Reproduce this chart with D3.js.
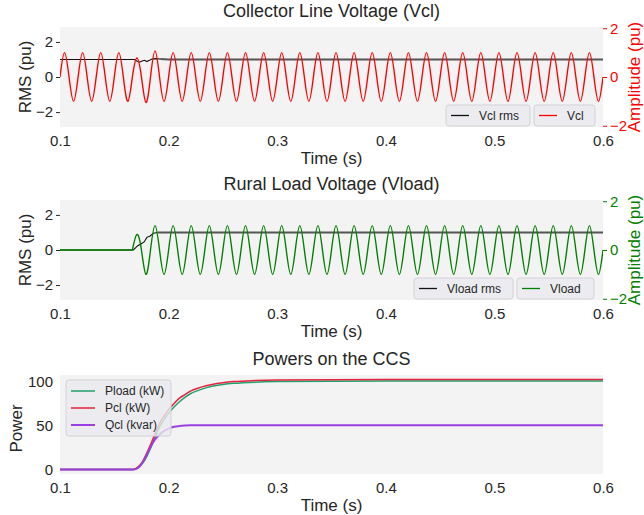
<!DOCTYPE html>
<html>
<head>
<meta charset="utf-8">
<script src="https://cdn.jsdelivr.net/npm/d3@7"></script>
<style>
  html, body { margin: 0; padding: 0; background: #fff; }
  svg { display: block; font-family: "Liberation Sans", Arial, Helvetica, sans-serif; }
</style>
</head>
<body>
<svg id="chart" width="644" height="515"></svg>
<script>
// ---------- data ----------
const timeTicks = [0.1, 0.2, 0.3, 0.4, 0.5, 0.6];
const voltTicks = [-2, 0, 2];
const powerTicks = [0, 50, 100];

// Instantaneous voltages, sampled every quarter period of the 60 Hz wave from t = 0.1 s
const waveStart = 0.1;
const waveStep = 1 / 240;

const vclWave = [
  0, 1, 0, -1, 0, 1, 0, -1,
  0, 1, 0, -1, 0, 1, 0, -1,
  0, 0.78, 0, -1.05, 0, 1.07, 0, -1,
  0, 1, 0, -1, 0, 1, 0, -1,
  0, 1, 0, -1, 0, 1, 0, -1,
  0, 1, 0, -1, 0, 1, 0, -1,
  0, 1, 0, -1, 0, 1, 0, -1,
  0, 1, 0, -1, 0, 1, 0, -1,
  0, 1, 0, -1, 0, 1, 0, -1,
  0, 1, 0, -1, 0, 1, 0, -1,
  0, 1, 0, -1, 0, 1, 0, -1,
  0, 1, 0, -1, 0, 1, 0, -1,
  0, 1, 0, -1, 0, 1, 0, -1,
  0, 1, 0, -1, 0, 1, 0, -1,
  0, 1, 0, -1, 0, 1, 0, -1,
  0
];

const vloadWave = [
  0, 0, 0, 0, 0, 0, 0, 0,
  0, 0, 0, 0, 0, 0, 0, 0,
  0, 0.64, 0, -1, 0, 1, 0, -1,
  0, 1, 0, -1, 0, 1, 0, -1,
  0, 1, 0, -1, 0, 1, 0, -1,
  0, 1, 0, -1, 0, 1, 0, -1,
  0, 1, 0, -1, 0, 1, 0, -1,
  0, 1, 0, -1, 0, 1, 0, -1,
  0, 1, 0, -1, 0, 1, 0, -1,
  0, 1, 0, -1, 0, 1, 0, -1,
  0, 1, 0, -1, 0, 1, 0, -1,
  0, 1, 0, -1, 0, 1, 0, -1,
  0, 1, 0, -1, 0, 1, 0, -1,
  0, 1, 0, -1, 0, 1, 0, -1,
  0, 1, 0, -1, 0, 1, 0, -1,
  0
];

// RMS voltages (pu)
const vclRmsTime  = [0.1, 0.1685, 0.1713, 0.1732, 0.1756, 0.1778, 0.18, 0.1824, 0.1849, 0.1876, 0.1923, 0.2, 0.6];
const vclRmsValue = [1.0, 1.0,    0.88,   0.84,   0.91,   0.95,   0.88, 0.95,   1.03,   1.05,   1.03,   1.0, 1.0];

const vloadRmsTime  = [0.1, 0.1676, 0.1713, 0.1744, 0.1775, 0.18, 0.183, 0.186, 0.1898, 0.6];
const vloadRmsValue = [0,   0,      0.23,   0.34,   0.46,   0.72, 0.80,  0.95,  1.0,    1.0];

// Powers on the CCS
const powerTime = [0.1, 0.1675, 0.172, 0.176, 0.18, 0.184, 0.188, 0.192, 0.196, 0.2, 0.205, 0.21, 0.215, 0.22, 0.23, 0.24, 0.25, 0.26, 0.28, 0.3, 0.35, 0.4, 0.5, 0.6];
const ploadKW   = [0,   0,      2,     7,     15,   26,    38,    49,    57,    64,  71,    77,   82,    86,   91,   94.5, 96.5, 97.8, 99.2, 99.8, 100.3, 100.4, 100.5, 100.5];
const pclKW     = [0,   0,      3,     9,     19,   30,    42,    53,    61,    68,  75,    81,   85,    89,   93.5, 96.5, 98.5, 99.8, 101,  101.6, 102, 102.1, 102.2, 102.2];
const qclKvar   = [0,   0,      2,     8,     17,   27,    35,    40,    44,    46.5, 48.5, 49.5, 50,   50.2, 50.2, 50.2, 50.2, 50.2, 50.2, 50.2, 50.2, 50.2, 50.2, 50.2];

// ---------- layout ----------
const svg = d3.select("#chart");
const FONT_TICK = 15, FONT_LABEL = 17, FONT_TITLE = 18, FONT_LEGEND = 12;
const INK = "#262626";
const plotLeft = 60, plotRight = 603;

const x = d3.scaleLinear().domain([0.1, 0.6]).range([plotLeft, plotRight]);
const intFormat = d3.format("d");

const defs = svg.append("defs");

function plotFrame(id, top, bottom, title) {
  const g = svg.append("g");
  g.append("rect")
    .attr("x", plotLeft).attr("y", top)
    .attr("width", plotRight - plotLeft).attr("height", bottom - top)
    .attr("fill", "#f3f3f3");
  defs.append("clipPath").attr("id", id)
    .append("rect")
    .attr("x", plotLeft).attr("y", top - 1)
    .attr("width", plotRight - plotLeft).attr("height", bottom - top + 2);
  g.append("text")
    .attr("x", (plotLeft + plotRight) / 2).attr("y", top - 10)
    .attr("text-anchor", "middle")
    .attr("font-size", FONT_TITLE).attr("fill", INK)
    .text(title);
  // time axis
  const xa = g.append("g")
    .attr("transform", `translate(0,${bottom})`)
    .call(d3.axisBottom(x).tickValues(timeTicks).tickFormat(d3.format(".1f")).tickSize(0).tickPadding(8));
  xa.select(".domain").remove();
  xa.selectAll("text").attr("font-size", FONT_TICK).attr("fill", INK).attr("font-family", null);
  g.append("text")
    .attr("x", (plotLeft + plotRight) / 2).attr("y", bottom + 37)
    .attr("text-anchor", "middle")
    .attr("font-size", FONT_LABEL).attr("fill", INK)
    .text("Time (s)");
  return g;
}

function yLabel(g, xPos, yCenter, text, color) {
  g.append("text")
    .attr("transform", `translate(${xPos},${yCenter}) rotate(-90)`)
    .attr("text-anchor", "middle")
    .attr("dominant-baseline", "central")
    .attr("font-size", FONT_LABEL).attr("fill", color)
    .text(text);
}

function legendBox(g, x0, y0, w, h, items, rowH, lineLen, textGap) {
  const lg = g.append("g");
  lg.append("rect")
    .attr("x", x0).attr("y", y0).attr("width", w).attr("height", h)
    .attr("rx", 3).attr("ry", 3)
    .attr("fill", "#eaeaef").attr("fill-opacity", 0.8)
    .attr("stroke", "#d2d2d8").attr("stroke-width", 1);
  items.forEach((it, i) => {
    const cy = y0 + h / 2 + (i - (items.length - 1) / 2) * rowH;
    lg.append("line")
      .attr("x1", x0 + 5).attr("x2", x0 + 5 + lineLen)
      .attr("y1", cy).attr("y2", cy)
      .attr("stroke", it.color).attr("stroke-width", it.width || 1.5);
    lg.append("text")
      .attr("x", x0 + 5 + lineLen + textGap).attr("y", cy)
      .attr("dominant-baseline", "central")
      .attr("font-size", FONT_LEGEND).attr("fill", INK)
      .text(it.label);
  });
}

function voltagePanel(cfg) {
  const { id, top, bottom, title, wave, rmsTime, rmsValue, color, rmsLegend, waveLegend, legendA, legendB } = cfg;
  const g = plotFrame(id, top, bottom, title);
  const yL = d3.scaleLinear().domain([-2.85, 2.85]).range([bottom, top]);
  const yR = d3.scaleLinear().domain([-2.05, 2.05]).range([bottom, top]);

  // left axis (RMS)
  const la = g.append("g").attr("transform", `translate(${plotLeft},0)`)
    .call(d3.axisLeft(yL).tickValues(voltTicks).tickFormat(intFormat).tickSize(4).tickPadding(3));
  la.select(".domain").remove();
  la.selectAll("line").attr("stroke", INK);
  la.selectAll("text").attr("font-size", FONT_TICK).attr("fill", INK).attr("font-family", null);

  // right axis (instantaneous amplitude)
  const ra = g.append("g").attr("transform", `translate(${plotRight},0)`)
    .call(d3.axisRight(yR).tickValues(voltTicks).tickFormat(intFormat).tickSize(4).tickPadding(3));
  ra.select(".domain").remove();
  ra.selectAll("line").attr("stroke", color);
  ra.selectAll("text").attr("font-size", FONT_TICK).attr("fill", color).attr("font-family", null);

  yLabel(g, 25, (top + bottom) / 2, "RMS (pu)", INK);
  yLabel(g, 634, (top + bottom) / 2, "Amplitude (pu)", color);

  const body = g.append("g").attr("clip-path", `url(#${id})`);

  // RMS trace: transient portion thin, steady portion heavier
  const rmsPts = rmsTime.map((t, i) => [t, rmsValue[i]]);
  const settle = rmsTime.findIndex(t => t >= 0.189);
  const rmsLine = d3.line().x(d => x(d[0])).y(d => yL(d[1]));
  body.append("path").attr("d", rmsLine(rmsPts.slice(0, settle + 1)))
    .attr("fill", "none").attr("stroke", "#111").attr("stroke-width", 1.1);
  body.append("path").attr("d", rmsLine(rmsPts.slice(settle)))
    .attr("fill", "none").attr("stroke", "#555").attr("stroke-width", 1.9);

  // instantaneous wave
  const pts = wave.map((v, i) => [waveStart + i * waveStep, v]);
  const firstActive = Math.max(0, wave.findIndex(v => v !== 0) - 1);
  if (firstActive > 0) {
    body.append("path")
      .attr("d", d3.line().x(d => x(d[0])).y(d => yR(d[1]))(pts.slice(0, firstActive + 1)))
      .attr("fill", "none").attr("stroke", color).attr("stroke-width", 1.4);
  }
  body.append("path")
    .attr("d", d3.line().x(d => x(d[0])).y(d => yR(d[1])).curve(d3.curveNatural)(pts.slice(firstActive)))
    .attr("fill", "none").attr("stroke", color).attr("stroke-width", 1.4);

  legendBox(g, legendA[0], legendA[1], legendA[2], 21, [{ label: rmsLegend, color: "#111", width: 1.3 }], 0, 18, 10);
  legendBox(g, legendB[0], legendB[1], legendB[2], 21, [{ label: waveLegend, color: color, width: 1.3 }], 0, 18, 10);
}

voltagePanel({
  id: "clipVcl", top: 27, bottom: 127, title: "Collector Line Voltage (Vcl)",
  wave: vclWave, rmsTime: vclRmsTime, rmsValue: vclRmsValue, color: "#ff0000",
  rmsLegend: "Vcl rms", waveLegend: "Vcl",
  legendA: [446, 105, 84], legendB: [534, 105, 61]
});

voltagePanel({
  id: "clipVload", top: 200, bottom: 300, title: "Rural Load Voltage (Vload)",
  wave: vloadWave, rmsTime: vloadRmsTime, rmsValue: vloadRmsValue, color: "#008000",
  rmsLegend: "Vload rms", waveLegend: "Vload",
  legendA: [414, 278, 99], legendB: [517, 278, 77]
});

// ---------- power panel ----------
(function () {
  const top = 375, bottom = 474;
  const g = plotFrame("clipPow", top, bottom, "Powers on the CCS");
  const y = d3.scaleLinear().domain([-5.1, 107.3]).range([bottom, top]);
  const ya = g.append("g").attr("transform", `translate(${plotLeft},0)`)
    .call(d3.axisLeft(y).tickValues(powerTicks).tickFormat(intFormat).tickSize(0).tickPadding(7));
  ya.select(".domain").remove();
  ya.selectAll("text").attr("font-size", FONT_TICK).attr("fill", INK).attr("font-family", null);
  yLabel(g, 16, (top + bottom) / 2 + 4, "Power", INK);

  const series = [
    { label: "Pload (kW)", values: ploadKW, color: "#22a06b", width: 1.5 },
    { label: "Pcl (kW)",   values: pclKW,   color: "#e3243f", width: 1.5 },
    { label: "Qcl (kvar)", values: qclKvar, color: "#9b40e0", width: 2 }
  ];
  const body = g.append("g").attr("clip-path", "url(#clipPow)");
  series.forEach(s => {
    body.append("path")
      .attr("d", d3.line().x((d, i) => x(powerTime[i])).y(d => y(d)).curve(d3.curveMonotoneX)(s.values))
      .attr("fill", "none").attr("stroke", s.color).attr("stroke-width", s.width);
  });
  legendBox(g, 66, 380, 105, 56, series, 17, 24, 10);
})();
</script>
</body>
</html>
